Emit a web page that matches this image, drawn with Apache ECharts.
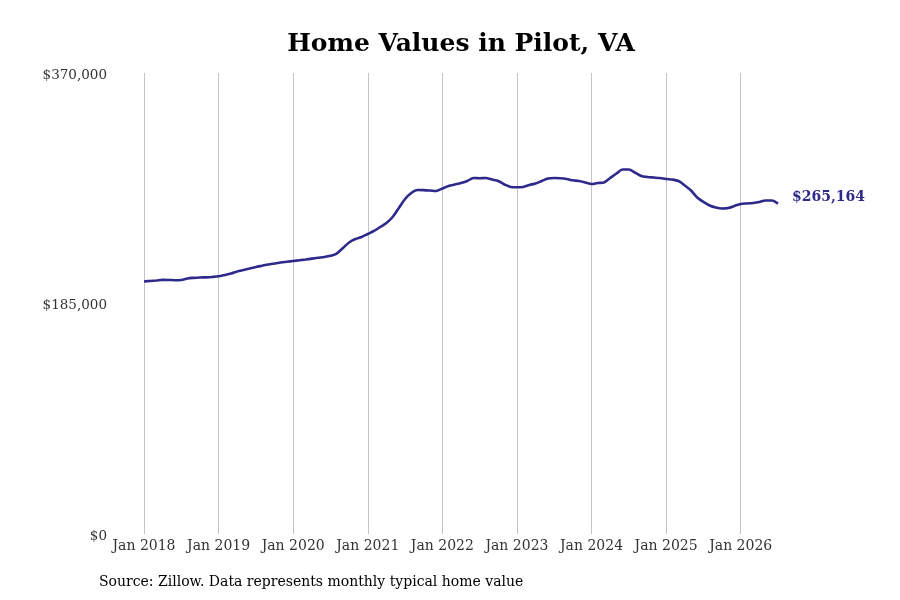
<!DOCTYPE html>
<html>
<head>
<meta charset="utf-8">
<title>Home Values in Pilot, VA</title>
<script src="https://cdn.jsdelivr.net/npm/echarts@6/dist/echarts.min.js"></script>
<style>
  html, body { margin: 0; padding: 0; background: #fff; }
  #chart { width: 900px; height: 600px; }
</style>
</head>
<body>
<div id="chart"></div>
<script>
// 月度房屋价值（Zillow），2018年1月 - 2026年7月
const startYear = 2018;
const monthNames = ['Jan', 'Feb', 'Mar', 'Apr', 'May', 'Jun', 'Jul', 'Aug', 'Sep', 'Oct', 'Nov', 'Dec'];

const values2018 = [202700, 203100, 203500, 204000, 203900, 203700, 203900, 205100, 205600, 205900, 206000, 206300];
const values2019 = [206800, 207900, 209100, 210700, 211900, 213100, 214300, 215300, 216300, 217100, 217900, 218500];
const values2020 = [219100, 219700, 220300, 221000, 221700, 222300, 223300, 225100, 229500, 234000, 236800, 238400];
const values2021 = [240800, 243200, 246400, 249600, 254400, 261600, 268900, 273700, 276100, 276000, 275700, 275300];
const values2022 = [277300, 279300, 280500, 281700, 283300, 285700, 285500, 285700, 284500, 283300, 280500, 278500];
const values2023 = [278300, 278500, 280100, 281300, 283300, 285300, 285700, 285500, 284900, 283900, 283300, 282100];
const values2024 = [280900, 281700, 282100, 285700, 289300, 292500, 292500, 290100, 287300, 286500, 286100, 285700];
const values2025 = [284900, 284500, 283300, 279700, 275700, 270100, 266500, 263700, 262000, 261200, 261600, 263300];
const values2026 = [264900, 265300, 265700, 266500, 267700, 267700, 265164];

const homeValues = [].concat(values2018, values2019, values2020, values2021, values2022,
  values2023, values2024, values2025, values2026);

const yTicks = [0, 185000, 370000];

const titleText = 'Home Values in Pilot, VA';
const sourceText = 'Source: Zillow. Data represents monthly typical home value';

// 月份类目
const months = homeValues.map((v, i) => monthNames[i % 12] + ' ' + (startYear + Math.floor(i / 12)));

const lineColor = '#2e2a8c';
const fontFamily = '"DejaVu Serif", serif';

const chart = echarts.init(document.getElementById('chart'));

const fmtMoney = v => '$' + Math.round(v).toLocaleString('en-US');

chart.setOption({
  animation: false,
  backgroundColor: '#fff',
  textStyle: { fontFamily: fontFamily },
  graphic: [
    {
      type: 'text',
      x: 461,
      y: 44,
      style: {
        text: titleText,
        font: 'bold 25px ' + fontFamily,
        fill: '#000',
        textAlign: 'center',
        textVerticalAlign: 'middle'
      }
    },
    {
      type: 'text',
      x: 99,
      y: 582,
      style: {
        text: sourceText,
        font: '14px ' + fontFamily,
        fill: '#000',
        textAlign: 'left',
        textVerticalAlign: 'middle'
      }
    }
  ],
  grid: {
    left: 144,
    right: 122,
    top: 73,
    bottom: 66,
    containLabel: false
  },
  xAxis: {
    type: 'category',
    data: months,
    boundaryGap: false,
    axisLine: { show: false },
    axisTick: { show: false },
    axisLabel: {
      interval: (i) => i % 12 === 0,
      color: '#333',
      fontSize: 14,
      fontFamily: fontFamily,
      margin: 5
    },
    splitLine: {
      show: true,
      interval: (i) => i % 12 === 0,
      lineStyle: { color: '#c4c4c4', width: 1 }
    }
  },
  yAxis: {
    type: 'value',
    min: yTicks[0],
    max: yTicks[yTicks.length - 1],
    interval: yTicks[1] - yTicks[0],
    axisLine: { show: false },
    axisTick: { show: false },
    splitLine: { show: false },
    axisLabel: {
      color: '#333',
      fontSize: 13.5,
      fontFamily: fontFamily,
      margin: 37,
      verticalAlign: 'top',
      padding: [-5, 0, 0, 0],
      formatter: fmtMoney
    }
  },
  series: [{
    name: 'Home value',
    type: 'line',
    data: homeValues,
    smooth: 0.3,
    symbol: 'none',
    lineStyle: { color: lineColor, width: 2.6 },
    itemStyle: { color: lineColor },
    endLabel: {
      show: true,
      distance: 14,
      offset: [0, -6],
      color: lineColor,
      fontWeight: 'bold',
      fontSize: 14,
      fontFamily: fontFamily,
      formatter: p => fmtMoney(p.value)
    }
  }]
});
</script>
</body>
</html>
